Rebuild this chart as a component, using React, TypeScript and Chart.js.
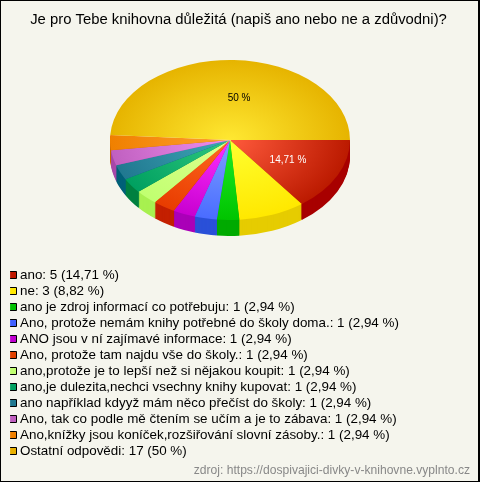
import React, { useEffect, useRef } from "react";
import { Chart, registerables } from "chart.js";

Chart.register(...registerables);

const titleText = "Je pro Tebe knihovna důležitá (napiš ano nebo ne a zdůvodni)?";
const sourceText = "zdroj: https://dospivajici-divky-v-knihovne.vyplnto.cz";
const categories = [
  "ano",
  "ne",
  "ano je zdroj informací co potřebuju",
  "Ano, protože nemám knihy potřebné do školy doma.",
  "ANO jsou v ní zajímavé informace",
  "Ano, protože tam najdu vše do školy.",
  "ano,protože je to lepší než si nějakou koupit",
  "ano,je dulezita,nechci vsechny knihy kupovat",
  "ano například kdyyž mám něco přečíst do školy",
  "Ano, tak co podle mě čtením se učím a je to zábava",
  "Ano,knížky jsou koníček,rozšiřování slovní zásoby.",
  "Ostatní odpovědi",
];
const counts = [5, 3, 1, 1, 1, 1, 1, 1, 1, 1, 1, 17];
const percents = ["14,71", "8,82", "2,94", "2,94", "2,94", "2,94", "2,94", "2,94", "2,94", "2,94", "2,94", "50"];
const innerColors = ["#ff5a3c", "#ffff30", "#1eeb28", "#7da0ff", "#ff30ff", "#ff6a20", "#e0ff90", "#30c880", "#40a8b8", "#f090f0", "#ffa030", "#ffe832"];
const outerColors = ["#bb1a00", "#ffe800", "#00c400", "#4a6cff", "#c800d0", "#e83c00", "#c0ff70", "#00a060", "#207890", "#c060c0", "#f08000", "#e6b400"];
const wallColors = ["#a80000", "#e6cc00", "#00aa00", "#2a50d8", "#aa00b8", "#c42000", "#a8f050", "#008040", "#006078", "#a848a8", "#c86800", "#c89800"];
const legendColors = ["#c01800", "#ffe800", "#00c000", "#4060ff", "#c000d0", "#e04000", "#c0ff70", "#00a060", "#207890", "#c060c0", "#f08000", "#e8b000"];
const labelColors = ["#ffffff", "", "", "", "", "", "", "", "", "", "", "#000000"];

const FONT = "'Liberation Sans', Arial, sans-serif";
const SQUASH = 80 / 120;
const DEPTH = 16;
const FRONT_EXTRA = (3.6 * Math.PI) / 180;

// The tilted drawing widens the front half of the pie towards its left side and narrows the back half.
const tilt = (a: number) =>
  a <= Math.PI
    ? a + FRONT_EXTRA * (a / Math.PI) ** 2
    : Math.PI + FRONT_EXTRA + ((a - Math.PI) * (Math.PI - FRONT_EXTRA)) / Math.PI;

const piePlugin = {
  id: "tiltedPie",
  beforeDraw(chart: any) {
    const { ctx, width, height } = chart;
    ctx.save();
    ctx.fillStyle = "#000";
    ctx.fillRect(0, 0, width, height);
    ctx.fillStyle = "#f5f5ed";
    ctx.fillRect(1, 1, width - 3, height - 2);
    ctx.restore();
  },
  afterLayout(chart: any) {
    const a = chart.chartArea;
    a.left = 110; a.right = 350; a.top = 20; a.bottom = 260; a.width = 240; a.height = 240;
    for (const box of chart.boxes) {
      if (box === chart.legend) {
        box.left = 10.1; box.right = 480; box.top = 265.7; box.bottom = 482; box.width = 470;
      } else if (box.options && box.options.text === titleText) {
        box.left = 0; box.right = 477; box.top = 9; box.bottom = 30;
      } else if (box.options && box.options.text === sourceText) {
        box.left = 0; box.right = 470; box.top = 463; box.bottom = 479;
      }
    }
  },
  afterDatasetsUpdate(chart: any) {
    for (const arc of chart.getDatasetMeta(0).data as any[]) {
      arc.startAngle = tilt(arc.startAngle);
      arc.endAngle = tilt(arc.endAngle);
      arc.circumference = arc.endAngle - arc.startAngle;
    }
  },
  beforeDatasetsDraw(chart: any) {
    const { ctx } = chart;
    const arcs = chart.getDatasetMeta(0).data;
    const cx = 230, cy = 140;
    ctx.save();
    for (let d = DEPTH; d >= 1; d--) {
      ctx.save();
      ctx.translate(cx, cy + d);
      ctx.scale(1, SQUASH);
      ctx.translate(-cx, -cy);
      arcs.forEach((arc: any, i: number) => {
        if (i === arcs.length - 1) return;
        const saved = arc.options;
        arc.options = Object.assign(Object.create(saved), { backgroundColor: wallColors[i] });
        arc.draw(ctx);
        arc.options = saved;
      });
      ctx.restore();
    }
    ctx.translate(cx, cy);
    ctx.scale(1, SQUASH);
    ctx.translate(-cx, -cy);
  },
  afterDatasetsDraw(chart: any) {
    const { ctx } = chart;
    ctx.restore();
    const arcs = chart.getDatasetMeta(0).data;
    ctx.save();
    ctx.font = "10px " + FONT;
    ctx.textAlign = "center";
    ctx.textBaseline = "middle";
    arcs.forEach((arc: any, i: number) => {
      if (!labelColors[i]) return;
      const mid = (arc.startAngle + arc.endAngle) / 2;
      const r = arc.outerRadius * 0.54;
      ctx.fillStyle = labelColors[i];
      const nudge = i === arcs.length - 1 ? 7 : 0;
      ctx.fillText(percents[i] + " %", arc.x + r * Math.cos(mid) + nudge, arc.y + r * SQUASH * Math.sin(mid) + 1);
    });
    ctx.restore();
  },
};

export default function App() {
  const ref = useRef<HTMLCanvasElement>(null);
  useEffect(() => {
    const chart = new Chart(ref.current as any, {
      type: "pie",
      data: {
        labels: categories,
        datasets: [
          {
            data: counts,
            borderWidth: 0,
            clip: false,
            backgroundColor: (c: any) => {
              const g = c.chart.ctx.createRadialGradient(230, 140, 0, 230, 140, 120);
              g.addColorStop(0, innerColors[c.dataIndex]);
              g.addColorStop(1, outerColors[c.dataIndex]);
              return g;
            },
          } as any,
        ],
      },
      options: {
        animation: false,
        responsive: false,
        rotation: 90,
        events: [],
        plugins: {
          tooltip: { enabled: false },
          title: {
            display: true,
            text: titleText,
            color: "#000",
            font: { family: FONT, size: 14.85, weight: "normal", lineHeight: 1.2 },
            padding: { top: 2, bottom: 0 },
          },
          subtitle: {
            display: true,
            position: "bottom",
            align: "end",
            text: sourceText,
            color: "#888888",
            font: { family: FONT, size: 12.1, weight: "normal", lineHeight: 1.2 },
            padding: 0,
          },
          legend: {
            display: true,
            position: "right",
            align: "start",
            maxWidth: 20,
            labels: {
              usePointStyle: true,
              pointStyle: "rect",
              boxWidth: 0.6,
              boxHeight: 7,
              padding: 2.6,
              color: "#000",
              font: { family: FONT, size: 13.4 },
              generateLabels: () =>
                categories.map((name, i) => ({
                  text: `${name}: ${counts[i]} (${percents[i]} %)`,
                  fillStyle: legendColors[i],
                  strokeStyle: "#000",
                  lineWidth: 1,
                  pointStyle: "rect",
                  fontColor: "#000",
                  index: i,
                })),
            },
          },
        },
      } as any,
      plugins: [piePlugin as any],
    });
    return () => chart.destroy();
  }, []);
  return (
    <div style={{ position: "fixed", left: 0, top: 0, width: 480, height: 482 }}>
      <canvas ref={ref} width={480} height={482} style={{ display: "block" }} />
    </div>
  );
}
